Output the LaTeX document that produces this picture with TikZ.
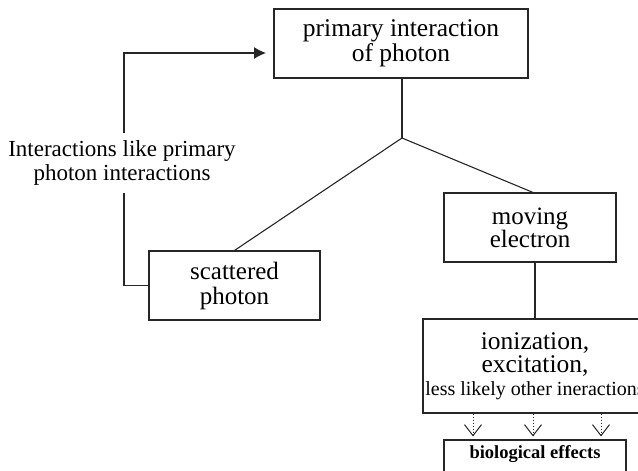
\documentclass[tikz,border=0pt]{standalone}
\usepackage{fontspec}
\setmainfont{Liberation Serif}
\usetikzlibrary{arrows.meta}
\definecolor{linec}{HTML}{262626}
\begin{document}
\begin{tikzpicture}[x=1pt,y=-1pt,
  box/.style={draw=linec, line width=1.1pt, inner sep=0pt, align=center, text=black},
  conn/.style={draw=linec, line width=1.1pt},
  feedarrow/.style={conn, -{Latex[length=12pt,width=12pt]}},
  dotline/.style={draw=linec, line width=1pt, dotted},
  opentip/.style={draw=linec, line width=1pt, solid, -{Straight Barb[length=11pt,width=17pt]}}]
\path[use as bounding box] (0,0) rectangle (638,471);
\clip (0,0) rectangle (638,471);

\node[box, minimum width=254pt, minimum height=69pt,
      font=\fontsize{25.5}{25}\selectfont] (prim) at (401,43.5)
      {primary interaction\\of photon};
\node[box, minimum width=171pt, minimum height=69pt,
      font=\fontsize{25}{25}\selectfont] (scat) at (234.5,285.5)
      {scattered\\photon};
\node[box, minimum width=172pt, minimum height=69pt,
      font=\fontsize{25}{23}\selectfont] (mov) at (530,227.5)
      {moving\\electron};
\node[box, minimum width=224pt, minimum height=94pt,
      font=\fontsize{25.5}{23}\selectfont] (ion) at (535,366)
      {ionization,\\excitation,\\{\fontsize{20}{22}\selectfont less likely other ineractions}};
\node[box, minimum width=182pt, minimum height=34pt, text height=15pt, text depth=13pt,
      font=\fontsize{18.5}{20}\selectfont\bfseries] (bio) at (535,457)
      {biological effects};

\node[align=center, inner xsep=2pt, inner ysep=7pt,
      font=\fontsize{23}{24}\selectfont] (lbl) at (122,163)
      {Interactions like primary\\photon interactions};

\coordinate (junc) at (402,138);
\coordinate (tip) at (266,53);

\draw[conn] (prim.south -| junc) -- (junc);
\draw[conn] (junc) -- (scat.north);
\draw[conn] (junc) -- ([xshift=3pt]mov.north);
\draw[conn] (ion.north |- mov.south) -- (ion.north);

\draw[conn] (scat.west) -| (lbl.south -| 124,0);
\draw[feedarrow] (lbl.north -| 124,0) |- (tip);

\foreach \dx/\nm in {-62/a,-2/b,66/c}{
  \coordinate (t\nm) at ([xshift=\dx pt,yshift=3pt]bio.north);
  \draw[dotline] ([xshift=\dx pt]ion.south) -- (t\nm);
  \draw[opentip] ([yshift=1pt]t\nm) -- (t\nm);
}
\end{tikzpicture}
\end{document}
